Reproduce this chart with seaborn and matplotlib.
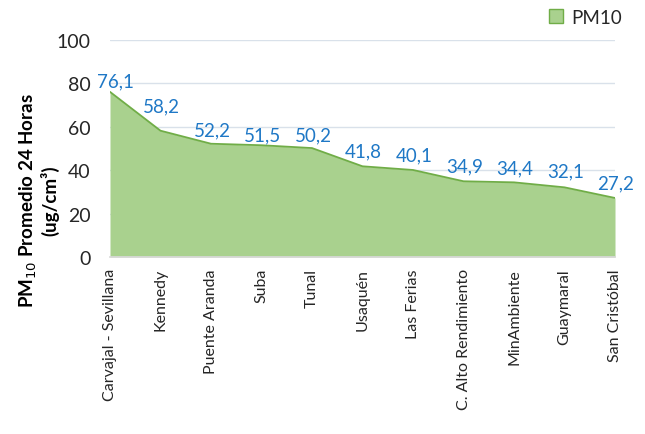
import matplotlib
matplotlib.use("Agg")
import matplotlib.pyplot as plt
import matplotlib.patches as mpatches
import seaborn as sns
import pandas as pd

estaciones = ["Carvajal - Sevillana", "Kennedy", "Puente Aranda", "Suba", "Tunal",
              "Usaquén", "Las Ferias", "C. Alto Rendimiento", "MinAmbiente",
              "Guaymaral", "San Cristóbal"]
pm10 = [76.1, 58.2, 52.2, 51.5, 50.2, 41.8, 40.1, 34.9, 34.4, 32.1, 27.2]
y_ticks = [0, 20, 40, 60, 80, 100]

sns.set_theme(style="white")
plt.rcParams["font.family"] = ["Lato", "DejaVu Sans"]

df = pd.DataFrame({"estacion": estaciones, "pm10": pm10, "pos": range(len(estaciones))})

fig = plt.figure(figsize=(6.45, 4.35), dpi=100)
ax = fig.add_axes([110 / 645, 1 - 258 / 435, 505 / 645, 217 / 435])

fill_c = "#a9d18e"
edge_c = "#70ad47"
ax.fill_between(df["pos"], df["pm10"], 0, color=fill_c, linewidth=0, zorder=2)
sns.lineplot(data=df, x="pos", y="pm10", color=edge_c, linewidth=1.3, ax=ax, zorder=3)

# value labels above each point
offsets = [11, 25, 14, 10, 13, 15, 15, 15, 14, 16, 15]
for i, (v, off) in enumerate(zip(pm10, offsets)):
    ax.annotate(f"{v:.1f}".replace(".", ","), (i, v), xytext=(5 if i == 0 else 1, off),
                textcoords="offset pixels", ha="center", va="center",
                fontsize=13.5, color="#1f78c6", zorder=4)

ax.set_xlim(0, len(estaciones) - 1)
ax.set_ylim(0, 100)
ax.set_yticks(y_ticks)
ax.set_yticklabels([str(t) for t in y_ticks], fontsize=14, color="#262626")
ax.set_xticks(df["pos"])
ax.set_xticklabels(estaciones, rotation=90, fontsize=11.5, color="#262626")
ax.tick_params(axis="x", length=5, color="#d9d9d9", pad=3)
ax.tick_params(axis="y", length=0, pad=14)
ax.yaxis.grid(True, color="#d9e1ea", linewidth=1, zorder=0)
ax.set_axisbelow(True)
for s in ["top", "right", "left"]:
    ax.spines[s].set_visible(False)
ax.spines["bottom"].set_color("#d9d9d9")
ax.set_xlabel("")
ax.set_ylabel("PM$_{10}$ Promedio 24 Horas\n(ug/cm³)", fontsize=13.5, fontweight="bold",
              color="#000000", linespacing=1.1)
ax.yaxis.set_label_coords(-0.1, 0.263)

handle = mpatches.Patch(facecolor=fill_c, edgecolor=edge_c, label="PM10")
fig.legend(handles=[handle], loc="center left", bbox_to_anchor=(540 / 645, 1 - 18 / 435),
           frameon=False, fontsize=13.5, handlelength=0.75, handleheight=0.75,
           handletextpad=0.4, borderpad=0)

fig.savefig("out.png", dpi=100)
